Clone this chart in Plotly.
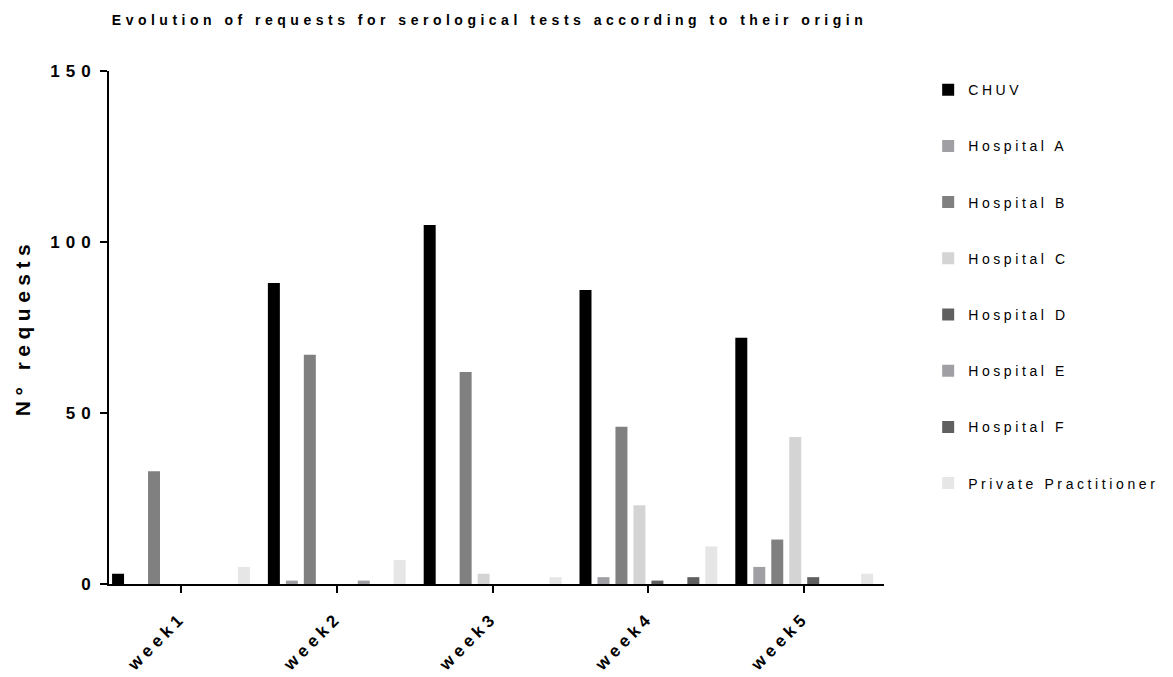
import plotly.graph_objects as go

weeks = ["week1", "week2", "week3", "week4", "week5"]
chuv = [3, 88, 105, 86, 72]
hosp_a = [0, 1, 0, 2, 5]
hosp_b = [33, 67, 62, 46, 13]
hosp_c = [0, 0, 3, 23, 43]
hosp_d = [0, 0, 0, 1, 2]
hosp_e = [0, 1, 0, 0, 0]
hosp_f = [0, 0, 0, 2, 0]
private = [5, 7, 2, 11, 3]

series_names = ["CHUV", "Hospital A", "Hospital B", "Hospital C",
                "Hospital D", "Hospital E", "Hospital F", "Private Practitioner"]
series_values = [chuv, hosp_a, hosp_b, hosp_c, hosp_d, hosp_e, hosp_f, private]
colors = ["#000000", "#a0a0a4", "#808080", "#d4d4d4",
          "#606060", "#a0a0a4", "#606060", "#e6e6e6"]

y_ticks = [0, 50, 100, 150]

def spaced(t, px):
    return f'<span style="letter-spacing:{px}px">{t}</span>'

fig = go.Figure()
for name, vals, col in zip(series_names, series_values, colors):
    fig.add_trace(go.Bar(
        x=weeks, y=vals, name=spaced(name, 3.6), legendgroup=name,
        marker=dict(color=col, line=dict(width=0)),
    ))

fig.update_layout(
    width=1173, height=677,
    paper_bgcolor="white", plot_bgcolor="white",
    margin=dict(l=101, r=297, t=63, b=101),
    barmode="group", bargap=0.077, bargroupgap=0.333,
    font=dict(family="Liberation Sans, Arial, sans-serif", color="black"),
    title=dict(
        text=spaced("<b>Evolution of requests for serological tests according to their origin</b>", 4.5),
        font=dict(size=14, color="black"),
        x=0.491, xref="paper", xanchor="center",
        y=1 - 12.5 / 677, yref="container", yanchor="middle",
    ),
    legend=dict(
        x=1.057, xanchor="left", y=0.994, yanchor="top",
        font=dict(size=14, color="black"),
        tracegroupgap=35, bgcolor="rgba(0,0,0,0)", borderwidth=0,
    ),
    showlegend=True,
)

fig.update_xaxes(
    type="category", range=[-0.462, 4.512],
    tickvals=weeks, ticktext=[spaced(f"<b>{w}</b>", 4.5) for w in weeks],
    tickangle=-45, tickfont=dict(size=17, color="black"),
    showline=True, linecolor="black", linewidth=2,
    ticks="outside", ticklen=7, tickwidth=2, tickcolor="black",
    showgrid=False, zeroline=False,
    ticklabelstandoff=8,
)
fig.update_yaxes(
    range=[0, 150],
    tickvals=y_ticks, ticktext=[spaced(f"<b>{v}</b>", 6) for v in y_ticks],
    tickfont=dict(size=17, color="black"),
    showline=True, linecolor="black", linewidth=2,
    ticks="outside", ticklen=7, tickwidth=2, tickcolor="black",
    showgrid=False, zeroline=False,
    title=dict(text=spaced("<b>N° requests</b>", 5.5), font=dict(size=21, color="black"), standoff=14),
)

fig.write_html("out.html")
